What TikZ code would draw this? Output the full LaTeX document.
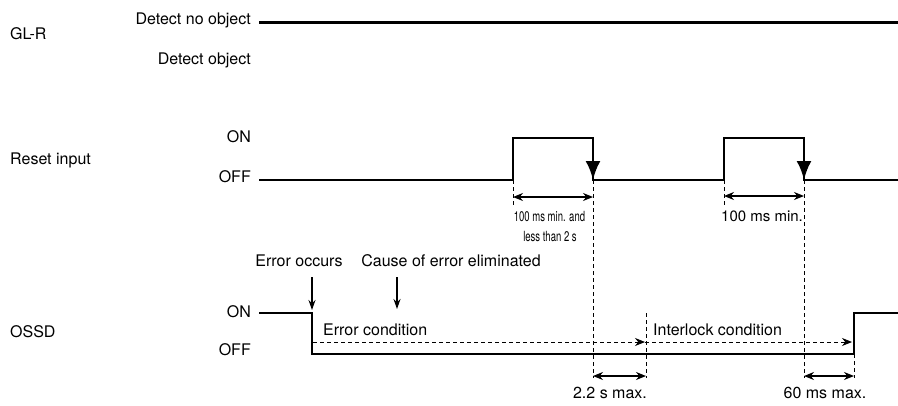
\documentclass[tikz,border=0pt]{standalone}
\usepackage{fontspec}
\setmainfont{TeX Gyre Heros}
\usetikzlibrary{arrows.meta}

\begin{document}
\begin{tikzpicture}[x=1pt,y=-1pt,>=Stealth,
  font=\fontsize{16}{19}\selectfont,
  lbl/.style={inner sep=0pt,anchor=base west},
  lvl/.style={inner sep=0pt,anchor=base east},
  note/.style={inner sep=0pt,anchor=base},
  sig/.style={line width=2.8pt},
  fall/.style={-{Latex[length=19pt,width=15pt]}},
  guide/.style={line width=0.9pt,dash pattern=on 4pt off 3pt},
  dim/.style={{Stealth[length=10pt,width=8pt]}-{Stealth[length=10pt,width=8pt]},line width=1.3pt},
  cond/.style={guide,-{Stealth[length=10pt,width=8pt]}},
  event/.style={-{Stealth[length=10pt,width=7pt]},line width=1.2pt}]
  \useasboundingbox (0,0) rectangle (898,405);

  % GL-R
  \node[lbl] (glr) at (10,39) {GL-R};
  \node[lvl] (noobj) at (251,24) {Detect no object};
  \node[lvl] (obj) at (251,64) {Detect object};
  \coordinate (g0) at (259,22.5);
  \coordinate (g1) at (898,22.5);
  \draw[sig] (g0) -- (g1);

  % Reset input
  \node[lbl] (reset) at (10,164) {Reset input};
  \node[lvl] (ron) at (251,142) {ON};
  \node[lvl] (roff) at (251,182) {OFF};
  \coordinate (rs0) at (259,180);
  \coordinate (rp1) at (513,180);
  \coordinate (rp1t) at (513,138);
  \coordinate (rq1t) at (593,138);
  \coordinate (rq1) at (593,180);
  \coordinate (rp2) at (724,180);
  \coordinate (rp2t) at (724,138);
  \coordinate (rq2t) at (804,138);
  \coordinate (rq2) at (804,180);
  \coordinate (rs1) at (898,180);
  \draw[sig] (rs0) -- (rp1) -- (rp1t) -- (rq1t) -- (rq1) -- (rp2) -- (rp2t) -- (rq2t) -- (rq2) -- (rs1);
  \draw[sig,fall] (rq1t) -- (rq1);
  \draw[sig,fall] (rq2t) -- (rq2);

  % guide lines
  \coordinate (d1) at (513,205);
  \coordinate (d2) at (593,378);
  \coordinate (d3) at (724,205);
  \coordinate (d4) at (804,378);
  \draw[guide] (rp1) -- (d1);
  \draw[guide] (rq1) -- (d2);
  \draw[guide] (rp2) -- (d3);
  \draw[guide] (rq2) -- (d4);
  \coordinate (w1a) at (513,197);
  \coordinate (w1b) at (593,197);
  \coordinate (w2a) at (724,196);
  \coordinate (w2b) at (804,196);
  \draw[dim] (w1a) -- (w1b);
  \draw[dim] (w2a) -- (w2b);
  \node[note,font=\fontsize{14}{16}\selectfont] (w1txt) at (549.5,221) {\scalebox{0.68}[1]{100 ms min. and}};
  \node[note,font=\fontsize{14}{16}\selectfont] (w1txtb) at (550,241) {\scalebox{0.68}[1]{less than 2 s}};
  \node[note,font=\fontsize{15}{18}\selectfont] (w2txt) at (762,221) {100 ms min.};

  % OSSD
  \node[lbl] (ossd) at (10,337) {OSSD};
  \node[lvl] (oon) at (251,317) {ON};
  \node[lvl] (ooff) at (251,355) {OFF};
  \coordinate (os0) at (259,313);
  \coordinate (oe) at (312,313);
  \coordinate (oeb) at (312,354);
  \coordinate (orb) at (854,354);
  \coordinate (ort) at (854,313);
  \coordinate (os1) at (898,313);
  \draw[sig] (os0) -- (oe) -- (oeb) -- (orb) -- (ort) -- (os1);

  % events
  \node[note] (errocc) at (299,266) {Error occurs};
  \node[note] (cause) at (451,266) {Cause of error eliminated};
  \coordinate (e1a) at (312,277);
  \coordinate (e1b) at (312,310);
  \coordinate (e2a) at (397,277);
  \coordinate (e2b) at (397,309);
  \draw[event] (e1a) -- (e1b);
  \draw[event] (e2a) -- (e2b);

  % conditions
  \node[lbl] (errcond) at (323,335) {Error condition};
  \node[lbl] (intcond) at (653,335) {Interlock condition};
  \coordinate (c0) at (313,342);
  \coordinate (c1) at (645,342);
  \coordinate (c2) at (852,342);
  \coordinate (il0) at (646,313);
  \coordinate (il1) at (646,378);
  \coordinate (ot) at (854,378);
  \draw[cond] (c0) -- (c1);
  \draw[cond] (c1) -- (c2);
  \draw[guide] (il0) -- (il1);
  \draw[guide] (orb) -- (ot);
  \coordinate (m1a) at (593,376);
  \coordinate (m1b) at (646,376);
  \coordinate (m2a) at (804,376);
  \coordinate (m2b) at (854,376);
  \draw[dim] (m1a) -- (m1b);
  \draw[dim] (m2a) -- (m2b);
  \node[note] (m1txt) at (610,398) {2.2 s max.};
  \node[note] (m2txt) at (825,398) {60 ms max.};
\end{tikzpicture}
\end{document}
